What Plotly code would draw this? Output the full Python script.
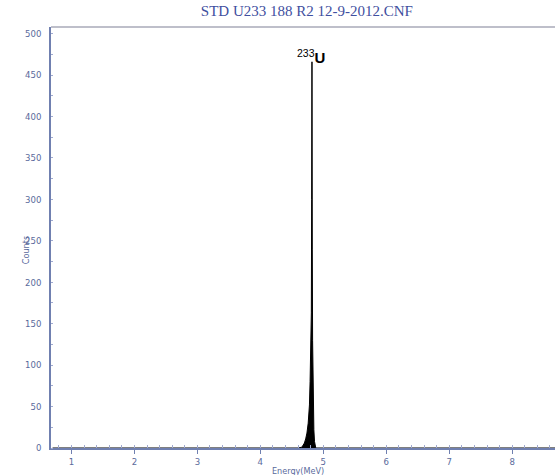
import plotly.graph_objects as go

# Spectrum data (MeV, counts)
energy = [0.70, 4.60, 4.66, 4.68, 4.70, 4.72, 4.74, 4.76, 4.78, 4.79, 4.80, 4.805, 4.81,
          4.815, 4.82, 4.825, 4.83, 4.84, 4.85, 4.86, 4.87, 4.88, 8.70]
counts = [0, 0, 1, 3, 6, 11, 18, 30, 52, 80, 120, 150, 163,
          300, 466, 240, 130, 60, 22, 8, 2, 0, 0]

x_ticks = [1, 2, 3, 4, 5, 6, 7, 8]
y_ticks = [0, 50, 100, 150, 200, 250, 300, 350, 400, 450, 500]

title_text = "STD U233 188 R2 12-9-2012.CNF"
x_title = "Energy(MeV)"
y_title = "Counts"
peak_label = "<sup>233</sup><b>U</b>"

axis_col = "#7080b0"
tick_col = "#5a6a9c"
narrow = "Liberation Sans Narrow, DejaVu Sans Condensed, Arial Narrow"
tick_font = dict(family=narrow, size=9.5, color=tick_col)

fig = go.Figure()
fig.add_trace(go.Scatter(
    x=energy, y=counts, mode="lines", fill="tozeroy",
    line=dict(color="black", width=1), fillcolor="black",
    hoverinfo="skip", showlegend=False,
))

fig.update_layout(
    width=555, height=475,
    margin=dict(l=51, r=0, t=27, b=27),
    paper_bgcolor="white", plot_bgcolor="white",
    title=dict(text=title_text, x=0.553, xanchor="center", y=0.977, yanchor="middle",
               font=dict(family="Liberation Serif, Times New Roman, serif", size=15, color="#3f4fa0")),
    xaxis=dict(
        range=[0.675, 8.68], tickvals=x_ticks, ticks="outside", ticklen=4, tickcolor=axis_col,
        showgrid=False, zeroline=False, showline=True, linecolor=axis_col, linewidth=1.5,
        tickfont=tick_font, automargin=False,
        minor=dict(dtick=0.2, ticks="inside", ticklen=3, tickcolor="#a0aad0", showgrid=False),
        fixedrange=True,
    ),
    yaxis=dict(
        range=[0, 508], tickvals=y_ticks, ticks="", showgrid=False, zeroline=False,
        showline=True, linecolor=axis_col, linewidth=1.5, tickfont=tick_font, automargin=False,
        ticklabelstandoff=6,
        minor=dict(dtick=25, ticks="inside", ticklen=2, tickcolor="#a0aad0", showgrid=False),
        fixedrange=True,
    ),
)

# top frame line
fig.add_shape(type="line", xref="paper", yref="paper", x0=0, x1=1, y0=1, y1=1,
              line=dict(color="#a8aab8", width=1.5))

# axis titles
fig.add_annotation(x=4.60, y=0, xref="x", yref="paper", yshift=-16, text=x_title, showarrow=False,
                   xanchor="center", yanchor="top", font=dict(family=narrow, size=9, color=tick_col))
fig.add_annotation(x=0, y=0.47, xref="paper", yref="paper", xshift=-25, text=y_title, showarrow=False,
                   textangle=-90, xanchor="center", yanchor="middle",
                   font=dict(family=narrow, size=9, color=tick_col))

fig.add_annotation(x=4.55, y=472, xref="x", yref="y", text=peak_label, showarrow=False,
                   xanchor="left", yanchor="middle",
                   font=dict(family="Liberation Sans, Arial", size=15, color="black"))

fig.write_html("out.html", config={"displayModeBar": False},
               post_script="document.body.style.margin='0';")
